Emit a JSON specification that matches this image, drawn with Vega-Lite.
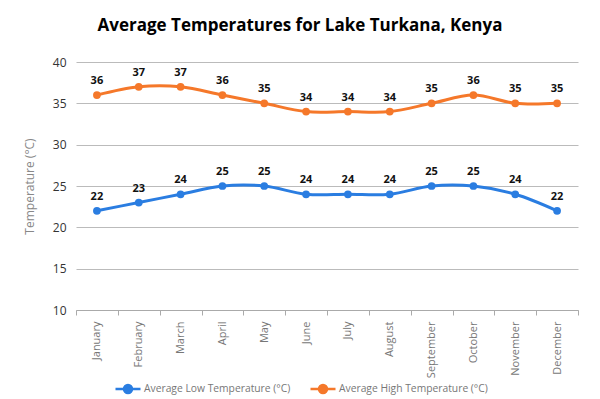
{
  "$schema": "https://vega.github.io/schema/vega-lite/v6.json",
  "autosize": "none",
  "width": 502,
  "height": 248,
  "padding": {"left": 76, "top": 62, "right": 22, "bottom": 89},
  "background": "white",
  "title": {
    "text": "Average Temperatures for Lake Turkana, Kenya",
    "font": "Open Sans",
    "fontSize": 17,
    "fontWeight": "bold",
    "color": "#000000",
    "anchor": "middle",
    "dx": -27,
    "offset": 21
  },
  "config": {
    "view": {"stroke": null},
    "font": "Open Sans"
  },
  "data": {
    "values": [
      {"month": "January", "series": "Average Low Temperature (°C)", "temp": 22},
      {"month": "February", "series": "Average Low Temperature (°C)", "temp": 23},
      {"month": "March", "series": "Average Low Temperature (°C)", "temp": 24},
      {"month": "April", "series": "Average Low Temperature (°C)", "temp": 25},
      {"month": "May", "series": "Average Low Temperature (°C)", "temp": 25},
      {"month": "June", "series": "Average Low Temperature (°C)", "temp": 24},
      {"month": "July", "series": "Average Low Temperature (°C)", "temp": 24},
      {"month": "August", "series": "Average Low Temperature (°C)", "temp": 24},
      {"month": "September", "series": "Average Low Temperature (°C)", "temp": 25},
      {"month": "October", "series": "Average Low Temperature (°C)", "temp": 25},
      {"month": "November", "series": "Average Low Temperature (°C)", "temp": 24},
      {"month": "December", "series": "Average Low Temperature (°C)", "temp": 22},
      {"month": "January", "series": "Average High Temperature (°C)", "temp": 36},
      {"month": "February", "series": "Average High Temperature (°C)", "temp": 37},
      {"month": "March", "series": "Average High Temperature (°C)", "temp": 37},
      {"month": "April", "series": "Average High Temperature (°C)", "temp": 36},
      {"month": "May", "series": "Average High Temperature (°C)", "temp": 35},
      {"month": "June", "series": "Average High Temperature (°C)", "temp": 34},
      {"month": "July", "series": "Average High Temperature (°C)", "temp": 34},
      {"month": "August", "series": "Average High Temperature (°C)", "temp": 34},
      {"month": "September", "series": "Average High Temperature (°C)", "temp": 35},
      {"month": "October", "series": "Average High Temperature (°C)", "temp": 36},
      {"month": "November", "series": "Average High Temperature (°C)", "temp": 35},
      {"month": "December", "series": "Average High Temperature (°C)", "temp": 35}
    ]
  },
  "encoding": {
    "x": {
      "field": "month",
      "type": "nominal",
      "sort": null,
      "scale": {"paddingInner": 0, "paddingOuter": 0},
      "axis": {
        "title": null,
        "labelAngle": -90,
        "labelColor": "#777777",
        "labelFontSize": 11,
        "labelPadding": 6,
        "domainColor": "#aaaaaa",
        "tickColor": "#aaaaaa",
        "tickBand": "extent",
        "tickSize": 5,
        "grid": false
      }
    },
    "y": {
      "field": "temp",
      "type": "quantitative",
      "scale": {"domain": [10, 40], "nice": false, "zero": false},
      "axis": {
        "title": "Temperature (°C)",
        "titleColor": "#888888",
        "titleFontSize": 12,
        "titleFontWeight": "normal",
        "titlePadding": 16,
        "values": [10, 15, 20, 25, 30, 35, 40],
        "labelColor": "#333333",
        "labelFontSize": 12,
        "labelPadding": 10,
        "domain": false,
        "ticks": false,
        "gridColor": "#bbbbbb",
        "gridWidth": 1
      }
    },
    "color": {
      "field": "series",
      "type": "nominal",
      "sort": ["Average Low Temperature (°C)", "Average High Temperature (°C)"],
      "scale": {
        "domain": ["Average Low Temperature (°C)", "Average High Temperature (°C)"],
        "range": ["#2a7de1", "#f5782a"]
      },
      "legend": {
        "title": null,
        "orient": "none",
        "direction": "horizontal",
        "legendX": 38,
        "legendY": 313,
        "symbolType": "M-1,0H1M0.32,0A0.32,0.32,0,1,1,-0.32,0A0.32,0.32,0,1,1,0.32,0Z",
        "symbolSize": 625,
        "symbolStrokeWidth": 2.5,
        "labelColor": "#777777",
        "labelFontSize": 10.3,
        "labelOffset": 2,
        "columnPadding": 14,
        "encode": {
          "symbols": {
            "update": {
              "fill": {"scale": "color", "field": "value"},
              "stroke": {"scale": "color", "field": "value"},
              "fillOpacity": {"value": 1}
            }
          }
        }
      }
    }
  },
  "layer": [
    {
      "mark": {"type": "line", "interpolate": "catmull-rom", "strokeWidth": 3}
    },
    {
      "mark": {"type": "point", "filled": true, "size": 60, "opacity": 1}
    },
    {
      "mark": {"type": "text", "dy": -14, "fontSize": 11, "fontWeight": "bold", "color": "#111111"},
      "encoding": {
        "text": {"field": "temp", "type": "quantitative"},
        "color": {"value": "#111111"}
      }
    }
  ]
}
